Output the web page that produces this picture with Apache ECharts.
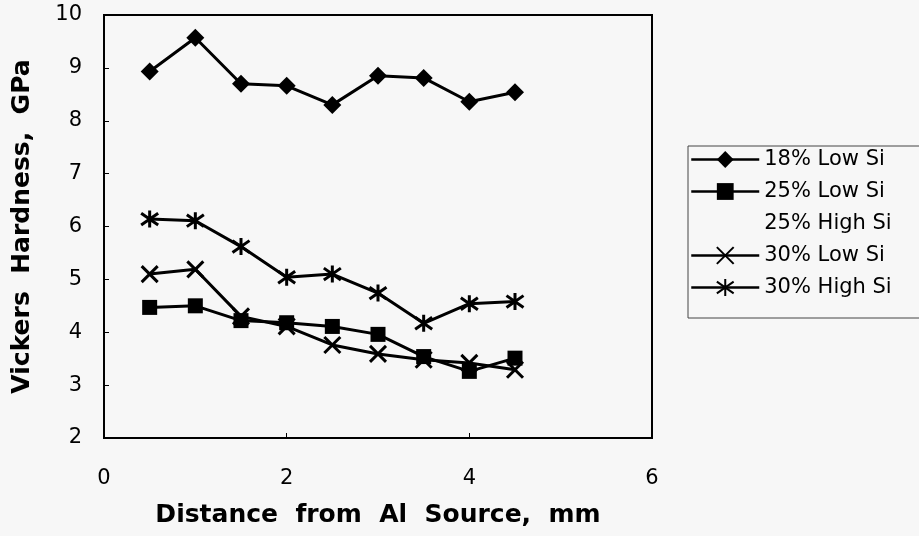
<!DOCTYPE html>
<html>
<head>
<meta charset="utf-8">
<script src="https://cdn.jsdelivr.net/npm/echarts@6/dist/echarts.min.js"></script>
<style>
  html, body { margin: 0; padding: 0; background: #f7f7f7; }
  #chart { width: 919px; height: 536px; }
</style>
</head>
<body>
<div id="chart"></div>
<script>
// distance from Al source, mm
const distance = [0.5, 1, 1.5, 2, 2.5, 3, 3.5, 4, 4.5];

const low18 = [8.93, 9.57, 8.70, 8.66, 8.30, 8.85, 8.81, 8.36, 8.54];
const low25 = [4.47, 4.50, 4.22, 4.18, 4.11, 3.96, 3.54, 3.26, 3.51];
const high25 = []; // listed in legend, no points plotted
const low30 = [5.10, 5.19, 4.30, 4.11, 3.76, 3.59, 3.48, 3.42, 3.29];
const high30 = [6.14, 6.11, 5.62, 5.04, 5.10, 4.74, 4.17, 4.54, 4.58];

const names = ['18% Low Si', '25% Low Si', '25% High Si', '30% Low Si', '30% High Si'];

const xTicks = [0, 2, 4, 6];
const yTicks = [2, 3, 4, 5, 6, 7, 8, 9, 10];

function pairs(ys) {
  return ys.map((y, i) => [distance[i], y]);
}

const FONT = '"DejaVu Sans", "Liberation Sans", Arial, sans-serif';
const crossPath = 'path://M0,0L10,10M10,0L0,10';
const starPath = 'path://M5,0L5,10M0,1.5L10,8.5M0,8.5L10,1.5';

var chartDom = document.getElementById('chart');
var myChart = echarts.init(chartDom);

const lineBase = {
  type: 'line',
  color: '#000',
  lineStyle: { color: '#000', width: 3 },
  itemStyle: { color: '#000' },
  animation: false
};

// legend entries; the 25% High Si one has no visible icon
const legendData = names.map(n => n === '25% High Si'
  ? { name: n, itemStyle: { opacity: 0 }, lineStyle: { opacity: 0 } }
  : { name: n });

var option = {
  backgroundColor: '#f7f7f7',
  textStyle: { fontFamily: FONT, color: '#000' },
  grid: {
    left: 104, right: 267, top: 15, bottom: 98,
    show: true, borderColor: '#000', borderWidth: 2
  },
  legend: {
    data: legendData,
    orient: 'vertical',
    left: 688,
    top: 146,
    itemWidth: 68,
    itemHeight: 21,
    itemGap: 11,
    padding: [3, 80, 20, 2],
    borderColor: '#444',
    borderWidth: 1,
    lineStyle: { width: 2.5 },
    textStyle: { fontFamily: FONT, fontSize: 21, color: '#000' },
    selectedMode: false
  },
  xAxis: {
    type: 'value',
    min: 0, max: 6, interval: 2,
    axisLine: { show: true, lineStyle: { color: '#000', width: 2 } },
    axisTick: { show: true, inside: true, length: 5, lineStyle: { color: '#000' } },
    splitLine: { show: false },
    axisLabel: {
      margin: 30, fontSize: 21, color: '#000', fontFamily: FONT,
      formatter: v => xTicks.includes(v) ? String(v) : ''
    },
    name: 'Distance  from  Al  Source,  mm',
    nameLocation: 'middle',
    nameGap: 65,
    nameTextStyle: { fontSize: 25, fontWeight: 'bold', color: '#000', fontFamily: FONT }
  },
  yAxis: {
    type: 'value',
    min: 2, max: 10, interval: 1,
    axisLine: { show: true, lineStyle: { color: '#000', width: 2 } },
    axisTick: { show: true, inside: true, length: 5, lineStyle: { color: '#000' } },
    splitLine: { show: false },
    axisLabel: {
      margin: 22, fontSize: 21, color: '#000', fontFamily: FONT,
      formatter: v => yTicks.includes(v) ? String(v) : ''
    },
    name: 'Vickers  Hardness,  GPa',
    nameLocation: 'middle',
    nameGap: 69,
    nameTextStyle: { fontSize: 25, fontWeight: 'bold', color: '#000', fontFamily: FONT }
  },
  series: [
    Object.assign({}, lineBase, {
      name: names[0], data: pairs(low18),
      symbol: 'diamond', symbolSize: 18
    }),
    Object.assign({}, lineBase, {
      name: names[1], data: pairs(low25),
      symbol: 'rect', symbolSize: 15
    }),
    Object.assign({}, lineBase, {
      name: names[2], data: high25,
      symbol: 'none',
      lineStyle: { color: '#000', width: 0, opacity: 0 }
    }),
    Object.assign({}, lineBase, {
      name: names[3], data: pairs(low30),
      symbol: crossPath, symbolSize: 16,
      itemStyle: { color: '#000', borderColor: '#000', borderWidth: 3 }
    }),
    Object.assign({}, lineBase, {
      name: names[4], data: pairs(high30),
      symbol: starPath, symbolSize: 17,
      itemStyle: { color: '#000', borderColor: '#000', borderWidth: 3 }
    })
  ]
};

option && myChart.setOption(option);
</script>
</body>
</html>
